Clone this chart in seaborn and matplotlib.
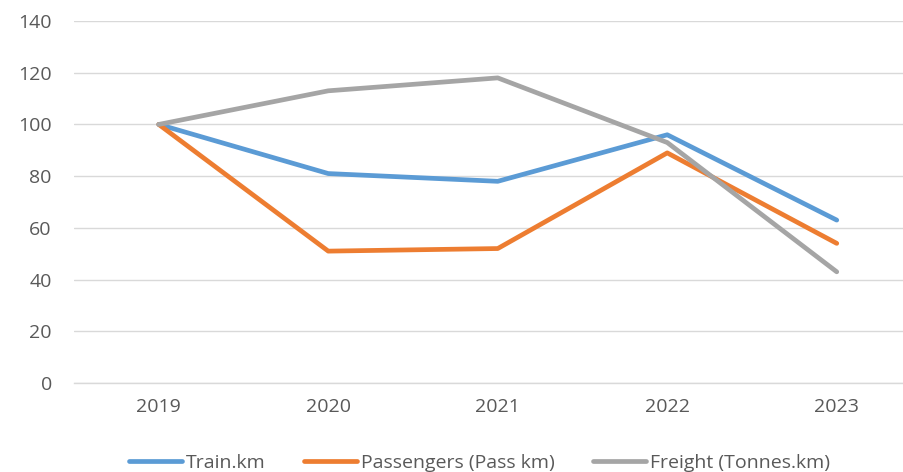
import pandas as pd
import matplotlib
matplotlib.use("Agg")
import matplotlib.pyplot as plt
import seaborn as sns

# dados
anos = ["2019", "2020", "2021", "2022", "2023"]
train_km = [100, 81, 78, 96, 63]
passageiros = [100, 51, 52, 89, 54]
carga = [100, 113, 118, 93, 43]

series = ["Train.km", "Passengers (Pass km)", "Freight (Tonnes.km)"]
cores = ["#5B9BD5", "#ED7D31", "#A5A5A5"]

df = pd.DataFrame({
    "ano": anos * 3,
    "valor": train_km + passageiros + carga,
    "serie": [series[0]] * 5 + [series[1]] * 5 + [series[2]] * 5,
})

sns.set_style("white")
plt.rcParams["font.family"] = ["Open Sans", "DejaVu Sans"]

fig = plt.figure(figsize=(9.04, 4.72), dpi=100)
ax = fig.add_axes([74 / 904, 89 / 472, 847.5 / 904, 362 / 472])

sns.lineplot(data=df, x="ano", y="valor", hue="serie", hue_order=series,
             palette=dict(zip(series, cores)), linewidth=3.4, ax=ax,
             solid_capstyle="round", legend=False)

ax.set_xlim(-0.5, 4.5)
ax.set_ylim(0, 140)
ax.set_yticks(range(0, 141, 20))
ax.set_xlabel("")
ax.set_ylabel("")
ax.yaxis.grid(True, color="#D9D9D9", linewidth=1)
ax.set_axisbelow(True)
for s in ax.spines.values():
    s.set_visible(False)
ax.spines["bottom"].set_visible(True)
ax.spines["bottom"].set_color("#D9D9D9")
ax.spines["bottom"].set_linewidth(1)
ax.tick_params(axis="both", length=0, labelsize=14, labelcolor="#595959")
ax.tick_params(axis="x", pad=11)
ax.tick_params(axis="y", pad=16)

# legenda embaixo, encostada na borda como no original
handles = [plt.Line2D([], [], color=c, linewidth=3.4, solid_capstyle="round") for c in cores]
fig.legend(handles, series, loc="center", bbox_to_anchor=(479.5 / 904, 9.5 / 472),
           ncol=3, frameon=False, fontsize=14, labelcolor="#595959",
           handlelength=2.7, handletextpad=0.2, columnspacing=2.0)

fig.savefig("out.png", dpi=100)
